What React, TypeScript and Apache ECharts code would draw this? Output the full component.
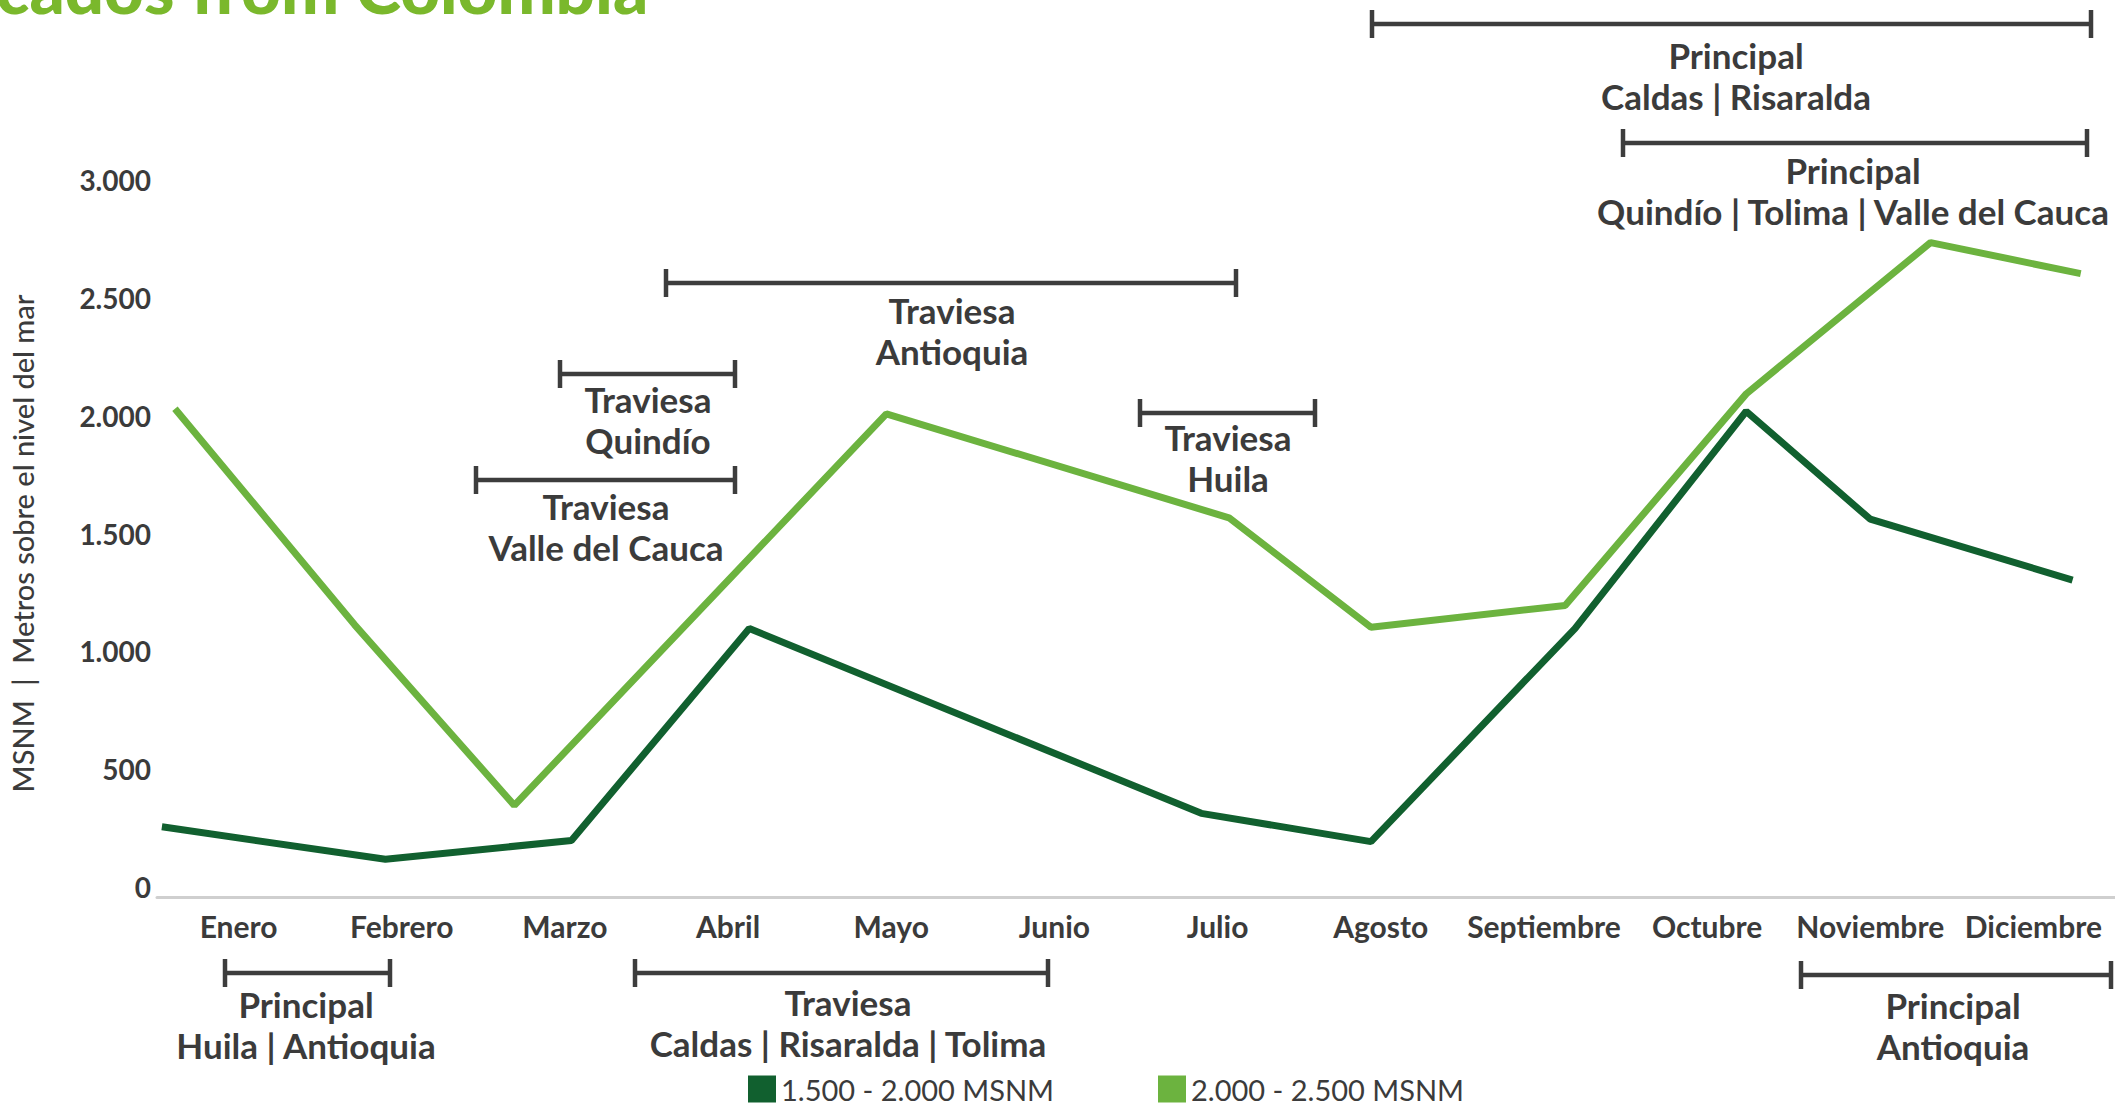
import React, { useEffect, useRef } from "react";
import * as echarts from "echarts";

const months = [
  "Enero", "Febrero", "Marzo", "Abril", "Mayo", "Junio",
  "Julio", "Agosto", "Septiembre", "Octubre", "Noviembre", "Diciembre",
];
const yTicks = [0, 500, 1000, 1500, 2000, 2500, 3000];

// x = position along the month axis (0 = Enero ... 11 = Diciembre)
const lowPos = [-0.47, 0.9, 2.04, 3.13, 5.9, 6.94, 8.19, 9.24, 10.0, 11.24];
const lowVals = [298, 160, 240, 1139, 355, 235, 1139, 2061, 1603, 1345];
const highPos = [-0.39, 0.71, 1.69, 3.97, 6.07, 6.94, 8.13, 9.24, 10.37, 11.29];
const highVals = [2072, 1156, 389, 2050, 1609, 1145, 1237, 2135, 2777, 2645];

const seriesNames = ["1.500 - 2.000 MSNM", "2.000 - 2.500 MSNM"];
const yAxisName = "MSNM  |  Metros sobre el nivel del mar";
const titleText = "cados from Colombia";

const annotationTexts = [
  ["Principal", "Caldas | Risaralda"],
  ["Principal", "Quindío | Tolima | Valle del Cauca"],
  ["Traviesa", "Antioquia"],
  ["Traviesa", "Quindío"],
  ["Traviesa", "Valle del Cauca"],
  ["Traviesa", "Huila"],
  ["Principal", "Huila | Antioquia"],
  ["Traviesa", "Caldas | Risaralda | Tolima"],
  ["Principal", "Antioquia"],
];
// layout of the annotation brackets (pixels)
const annotationLayout = [
  { x1: 1372, x2: 2091, y: 24, cx: 1736, ty: 55 },
  { x1: 1623, x2: 2087, y: 143, cx: 1853, ty: 170 },
  { x1: 666, x2: 1236, y: 283, cx: 952, ty: 310 },
  { x1: 560, x2: 735, y: 374, cx: 648, ty: 399 },
  { x1: 476, x2: 735, y: 480, cx: 606, ty: 506 },
  { x1: 1140, x2: 1315, y: 413, cx: 1228, ty: 437 },
  { x1: 225, x2: 390, y: 973, cx: 306, ty: 1004 },
  { x1: 635, x2: 1048, y: 973, cx: 848, ty: 1002 },
  { x1: 1801, x2: 2111, y: 975, cx: 1953, ty: 1005 },
];

const DARK = "#11602f";
const LIGHT = "#6cb33f";
const TEXT = "#3b3b3b";
const FONT = "Lato";

function fmt(v: number): string {
  return String(v).replace(/\B(?=(\d{3})+(?!\d))/g, ".");
}

export default function App() {
  const ref = useRef<HTMLDivElement>(null);
  useEffect(() => {
    document.body.style.margin = "0";
    if (!ref.current) return;
    const chart = echarts.init(ref.current, null, { renderer: "svg" });

    const graphics: any[] = [];
    annotationLayout.forEach((a, i) => {
      const stroke = { stroke: "#3d3d3d", lineWidth: 4.5 };
      graphics.push({ type: "line", shape: { x1: a.x1, y1: a.y, x2: a.x2, y2: a.y }, style: stroke, z: 10 });
      graphics.push({ type: "line", shape: { x1: a.x1, y1: a.y - 14, x2: a.x1, y2: a.y + 14 }, style: stroke, z: 10 });
      graphics.push({ type: "line", shape: { x1: a.x2, y1: a.y - 14, x2: a.x2, y2: a.y + 14 }, style: stroke, z: 10 });
      annotationTexts[i].forEach((t, j) => {
        graphics.push({
          type: "text",
          x: a.cx,
          y: a.ty + j * 41,
          style: {
            text: t,
            fill: TEXT,
            font: `bold 35px ${FONT}`,
            align: "center",
            verticalAlign: "middle",
          },
          z: 10,
        });
      });
    });
    graphics.push({
      type: "text",
      x: -4,
      y: 22,
      style: {
        text: titleText,
        fill: "#7ab82c",
        font: `900 69px ${FONT}`,
        align: "left",
        verticalAlign: "bottom",
      },
    });

    chart.setOption({
      animation: false,
      backgroundColor: "#ffffff",
      textStyle: { fontFamily: FONT },
      grid: { left: 150, right: 0, top: 190, bottom: 216 },
      legend: {
        data: seriesNames.map((n, i) => ({ name: n, itemStyle: { color: i === 0 ? DARK : LIGHT } })),
        left: 748,
        top: 1074,
        padding: 0,
        icon: "rect",
        itemWidth: 28,
        itemHeight: 27,
        itemGap: 104,
        textStyle: { fontSize: 29, color: TEXT, fontFamily: FONT, lineHeight: 30 },
      },
      xAxis: [
        {
          type: "category",
          data: months,
          boundaryGap: true,
          axisLine: { show: true, lineStyle: { color: "#cfcfcf", width: 3 } },
          axisTick: { show: false },
          axisLabel: {
            margin: 14,
            fontSize: 30,
            fontWeight: "bold",
            color: TEXT,
            fontFamily: FONT,
            interval: 0,
          },
          splitLine: { show: false },
        },
        {
          type: "value",
          min: -0.5,
          max: 11.5,
          show: false,
          splitLine: { show: false },
        },
      ],
      yAxis: {
        type: "value",
        min: 0,
        max: 3000,
        interval: 500,
        name: yAxisName,
        nameLocation: "middle",
        nameGap: 120,
        nameRotate: 90,
        nameTextStyle: { fontSize: 29, color: TEXT, fontFamily: FONT, fontWeight: 500 },
        axisLine: { show: false },
        axisTick: { show: false },
        splitLine: { show: false },
        axisLabel: {
          margin: 6,
          fontSize: 28,
          fontWeight: "bold",
          color: TEXT,
          fontFamily: FONT,
          formatter: (v: number) => (yTicks.includes(v) ? fmt(v) : ""),
          verticalAlign: "bottom",
          lineHeight: 20,
        },
      },
      series: [
        {
          name: seriesNames[0],
          type: "line",
          xAxisIndex: 1,
          data: lowPos.map((x, i) => [x, lowVals[i]]),
          symbol: "none",
          lineStyle: { color: DARK, width: 7 },
          itemStyle: { color: DARK },
          z: 3,
        },
        {
          name: seriesNames[1],
          type: "line",
          xAxisIndex: 1,
          data: highPos.map((x, i) => [x, highVals[i]]),
          symbol: "none",
          lineStyle: { color: LIGHT, width: 7 },
          itemStyle: { color: LIGHT },
          z: 2,
        },
      ],
      graphic: graphics,
    });
    return () => chart.dispose();
  }, []);
  return (
    <div
      ref={ref}
      style={{ position: "absolute", left: 0, top: 0, width: 2115, height: 1113 }}
    />
  );
}
